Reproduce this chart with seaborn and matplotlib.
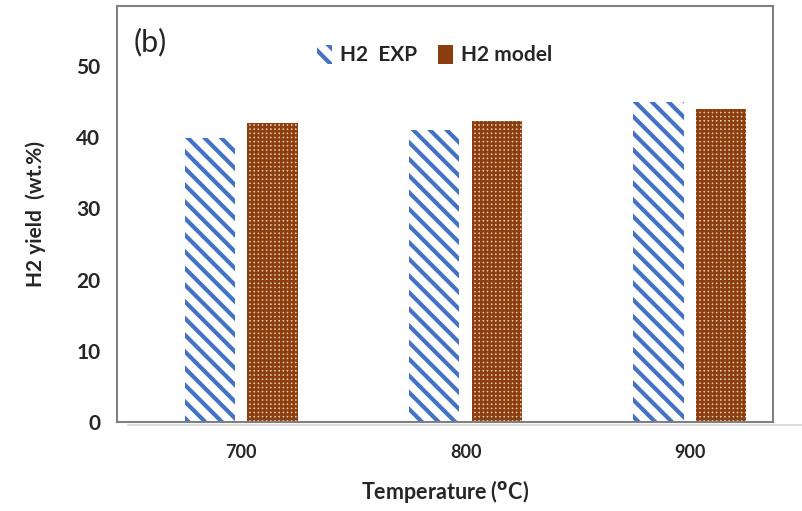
import numpy as np
import pandas as pd
import matplotlib
matplotlib.use("Agg")
import matplotlib.pyplot as plt
import seaborn as sns
from matplotlib.patches import Patch
from matplotlib.lines import Line2D

# -------------------------------
# Data
# -------------------------------
temperatures = ["700", "800", "900"]
h2_exp = [39.9, 41.0, 44.9]
h2_model = [42.0, 42.3, 44.0]
series_names = ["H2  EXP", "H2 model"]

df = pd.DataFrame({
    "Temperature": temperatures * 2,
    "Yield": h2_exp + h2_model,
    "Series": [series_names[0]] * 3 + [series_names[1]] * 3,
})

# -------------------------------
# Style
# -------------------------------
sns.set_style("white")
plt.rcParams["font.family"] = ["Lato", "DejaVu Sans"]
plt.rcParams["hatch.linewidth"] = 3.0

blue = "#4472C4"
brown = "#8B3E0F"
light = "#EBC9B0"


def style_exp(p):
    p.set_facecolor("white")
    p.set_edgecolor(blue)
    p.set_hatch("\\\\")
    p.set_linewidth(0)
    if hasattr(p, "set_hatch_linewidth"):
        p.set_hatch_linewidth(3.0)


def style_model(p):
    p.set_facecolor(light)
    p.set_edgecolor(brown)
    p.set_hatch("++++")
    p.set_linewidth(0)
    if hasattr(p, "set_hatch_linewidth"):
        p.set_hatch_linewidth(1.8)


fig = plt.figure(figsize=(8.02, 5.11), dpi=100)
ax = fig.add_axes([0.1459, 0.1742, 0.8179, 0.8138])

sns.barplot(data=df, x="Temperature", y="Yield", hue="Series",
            order=temperatures, hue_order=series_names,
            width=0.56, gap=0.2, legend=False, ax=ax)

for bar in ax.containers[0]:
    style_exp(bar)
for bar in ax.containers[1]:
    style_model(bar)

ax.set_xlim(-0.553, 2.37)
ax.set_ylim(0, 58.4)
ax.set_yticks([0, 10, 20, 30, 40, 50])
ax.tick_params(axis="y", labelsize=15, length=0, pad=12)
ax.tick_params(axis="x", labelsize=13, length=0, pad=16)
for lab in ax.get_yticklabels() + ax.get_xticklabels():
    lab.set_fontweight("bold")

ax.set_xlabel(r"Temperature ($^{\mathbf{o}}$C)", fontsize=15.5,
              fontweight="bold", labelpad=12)
ax.set_ylabel("H2 yield  (wt.%)", fontsize=15, fontweight="bold", labelpad=22)

for side in ax.spines.values():
    side.set_color("#808080")
    side.set_linewidth(1.5)

ax.text(0.026, 0.89, "(b)", transform=ax.transAxes, fontsize=22)

# faint shadow line under the plot frame
fig.add_artist(Line2D([0.16, 1.0], [0.168, 0.168], color="#DDDDDD", lw=1.5,
                      transform=fig.transFigure))

# legend
h_exp = Patch()
style_exp(h_exp)
h_model = Patch()
style_model(h_model)
leg = fig.legend([h_exp, h_model], series_names, loc="center",
                 bbox_to_anchor=(0.542, 0.892), ncol=2, frameon=False,
                 handlelength=0.7, handleheight=1.0, handletextpad=0.4,
                 columnspacing=1.0, prop={"weight": "bold", "size": 15})

fig.savefig("out.png", dpi=100)
